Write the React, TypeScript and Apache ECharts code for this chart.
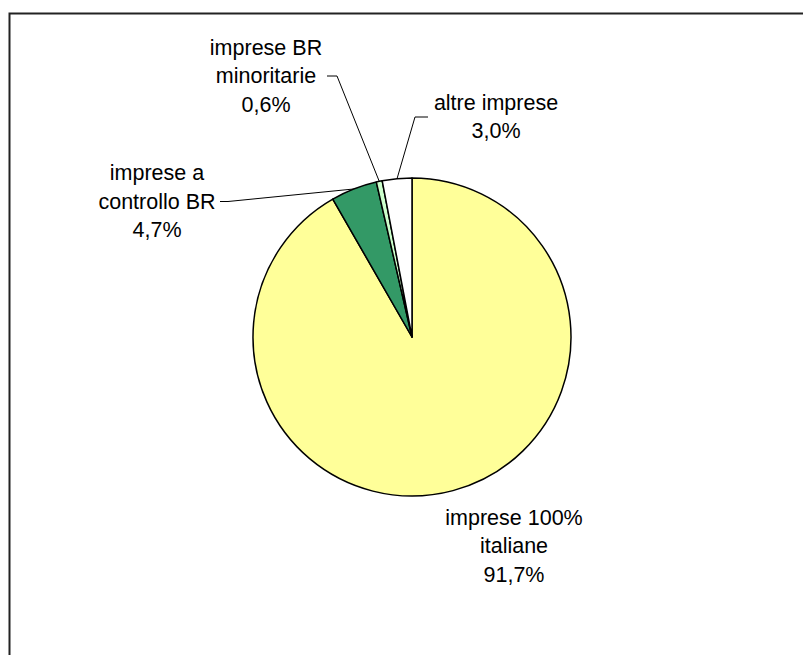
import React, { useEffect, useRef } from "react";
import * as echarts from "echarts";

const categories = ["imprese 100%\nitaliane", "imprese a\ncontrollo BR", "imprese BR\nminoritarie", "altre imprese"];
const values = [91.7, 4.7, 0.6, 3.0];
const sliceColors = ["#FFFF99", "#339966", "#CCFFCC", "#FFFFFF"];
// label anchor: [x, y, align, leader bend x, leader end x]
const labelPlaces: [number, number, string, number | null, number | null][] = [
  [514, 546, "center", null, null],
  [157, 201.5, "center", 228, 220],
  [266, 76, "center", 337, 327],
  [496, 117, "center", 415, 428],
];

export default function App() {
  const ref = useRef<HTMLDivElement>(null);
  useEffect(() => {
    if (!ref.current) return;
    const chart = echarts.init(ref.current, null, { renderer: "svg" });
    chart.setOption({
      animation: false,
      backgroundColor: "#FFFFFF",
      graphic: [
        {
          type: "rect",
          shape: { x: 9.5, y: 13.5, width: 900, height: 900 },
          style: { fill: "none", stroke: "#222222", lineWidth: 2 },
          silent: true,
          z: 0,
        },
      ],
      series: [
        {
          type: "pie",
          center: [412, 337],
          radius: 159,
          startAngle: 90,
          clockwise: true,
          silent: true,
          emphasis: { disabled: true },
          itemStyle: { borderColor: "#000000", borderWidth: 1.5 },
          label: {
            show: true,
            position: "outside",
            color: "#000000",
            fontFamily: "'Liberation Sans', Arial, sans-serif",
            fontSize: 21.5,
            lineHeight: 28.5,
            align: "center",
            formatter: (p: any) => p.name + "\n" + Number(p.value).toFixed(1).replace(".", ",") + "%",
          },
          labelLine: { show: true, lineStyle: { color: "#000000", width: 1 } },
          labelLayout: (params: any) => {
            const i = params.dataIndex;
            const pl = labelPlaces[i];
            const out: any = { x: pl[0], y: pl[1], align: pl[2], verticalAlign: "middle" };
            if (pl[3] !== null && params.labelLinePoints) {
              const p0 = params.labelLinePoints[0];
              out.labelLinePoints = [p0, [pl[3], pl[1]], [pl[4], pl[1]]];
            }
            return out;
          },
          data: categories.map((c, i) => ({
            name: c,
            value: values[i],
            itemStyle: { color: sliceColors[i] },
            labelLine: { show: i !== 0 },
          })),
        },
      ],
    });
    return () => chart.dispose();
  }, []);
  return <div ref={ref} style={{ position: "absolute", left: 0, top: 0, width: 803, height: 655 }} />;
}
